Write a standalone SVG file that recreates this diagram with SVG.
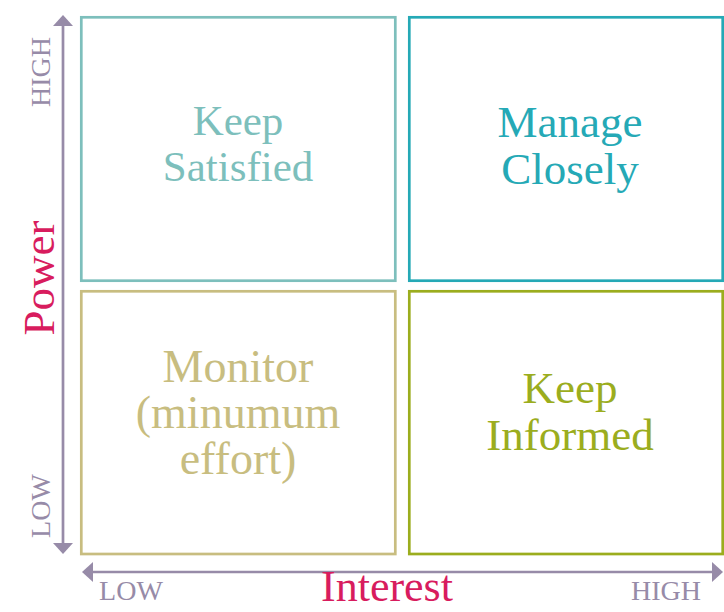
<svg xmlns="http://www.w3.org/2000/svg" width="724" height="612" viewBox="0 0 724 612">
<defs>
<style>
.box{fill:#ffffff;stroke-width:2.7}
.lbl{font-family:"Liberation Serif","DejaVu Serif",serif;text-anchor:middle}
.q{font-size:43px}
.axis{stroke:#978ba8;stroke-width:2.7;fill:none}
.tick{font-family:"Liberation Serif","DejaVu Serif",serif;font-size:28px;fill:#978ba8;text-anchor:middle}
.title{font-family:"Liberation Serif","DejaVu Serif",serif;fill:#d81c5e;text-anchor:middle}
</style>
<marker id="ah" viewBox="0 0 11 20" refX="0" refY="10" markerWidth="11" markerHeight="20" markerUnits="userSpaceOnUse" orient="auto-start-reverse">
<path d="M0,0 L11,10 L0,20 z" fill="#978ba8"/>
</marker>
</defs>
<rect width="724" height="612" fill="#ffffff"/>
<g id="connectors">
<line class="axis" x1="63" y1="26" x2="63" y2="543" marker-start="url(#ah)" marker-end="url(#ah)"/>
<line class="axis" x1="93" y1="572" x2="712" y2="572" marker-start="url(#ah)" marker-end="url(#ah)"/>
</g>
<g id="axis-labels">
<text class="tick" transform="translate(50,72) rotate(-90)">HIGH</text>
<text class="tick" transform="translate(50,506) rotate(-90)">LOW</text>
<text class="tick" x="131" y="600">LOW</text>
<text class="tick" x="666" y="600">HIGH</text>
<text class="title" font-size="45" transform="translate(54,278) rotate(-90)">Power</text>
<text class="title" font-size="44" x="387" y="601">Interest</text>
</g>
<g id="keep-satisfied">
<rect class="box" x="81.3" y="17.3" width="314" height="263.4" stroke="#7dbfbc"/>
<text class="lbl q" fill="#7dbfbc"><tspan x="238" y="135">Keep</tspan><tspan x="238" y="181">Satisfied</tspan></text>
</g>
<g id="manage-closely">
<rect class="box" x="409.3" y="17.3" width="313.4" height="263.4" stroke="#25a9b6"/>
<text class="lbl" font-size="45" fill="#25a9b6"><tspan x="570" y="137">Manage</tspan><tspan x="570" y="184">Closely</tspan></text>
</g>
<g id="monitor">
<rect class="box" x="81.3" y="291.3" width="314" height="262.7" stroke="#c8bd80"/>
<text class="lbl" font-size="46" fill="#c8bd80"><tspan x="238" y="382">Monitor</tspan><tspan x="238" y="428">(minumum</tspan><tspan x="238" y="474">effort)</tspan></text>
</g>
<g id="keep-informed">
<rect class="box" x="409.3" y="291.3" width="313.4" height="262.7" stroke="#9bad1e"/>
<text class="lbl" font-size="45" fill="#9bad1e"><tspan x="570" y="403">Keep</tspan><tspan x="570" y="450">Informed</tspan></text>
</g>
</svg>
